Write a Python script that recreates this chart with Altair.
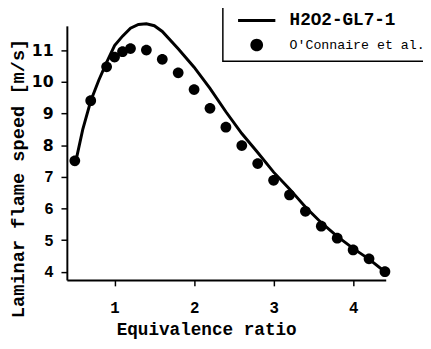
import altair as alt
import pandas as pd

# Experimental data (O'Connaire et al.)
phi_exp = [0.5, 0.7, 0.9, 1.0, 1.1, 1.2, 1.4, 1.6, 1.8, 2.0, 2.2, 2.4, 2.6, 2.8,
           3.0, 3.2, 3.4, 3.6, 3.8, 4.0, 4.2, 4.4]
sl_exp = [7.51, 9.41, 10.48, 10.79, 10.96, 11.06, 11.01, 10.72, 10.29, 9.76, 9.17,
          8.57, 7.99, 7.42, 6.89, 6.43, 5.91, 5.44, 5.06, 4.69, 4.41, 4.00]

# Model (H2O2-GL7-1)
phi_model = [0.5, 0.6, 0.7, 0.8, 0.9, 1.0, 1.1, 1.2, 1.3, 1.4, 1.5, 1.6, 1.8, 2.0,
             2.2, 2.4, 2.6, 2.8, 3.0, 3.2, 3.4, 3.6, 3.8, 4.0, 4.2, 4.4]
sl_model = [7.35, 8.50, 9.40, 10.05, 10.62, 11.15, 11.45, 11.70, 11.82, 11.84, 11.78,
            11.60, 11.05, 10.47, 9.80, 9.06, 8.37, 7.77, 7.15, 6.62, 6.05, 5.55,
            5.12, 4.74, 4.40, 4.00]

series_names = ["H2O2-GL7-1", "O'Connaire et al."]
x_ticks = [1, 2, 3, 4]
y_ticks = [4, 5, 6, 7, 8, 9, 10, 11]

exp_df = pd.DataFrame({"phi": phi_exp, "sl": sl_exp, "series": series_names[1]})
mod_df = pd.DataFrame({"phi": phi_model, "sl": sl_model, "series": series_names[0]})

FONT = "Liberation Mono"

xscale = alt.Scale(domain=[0.4, 4.41], nice=False, zero=False)
yscale = alt.Scale(domain=[3.74, 11.776], nice=False, zero=False)

xaxis = alt.Axis(values=x_ticks, format="d", title="Equivalence ratio", grid=False,
                 labelOverlap=False,
                 labelFont=FONT, labelFontWeight="bold", labelFontSize=16,
                 labelColor="black", labelPadding=14,
                 titleFont=FONT, titleFontWeight="bold", titleFontSize=18,
                 titleColor="black", titleX=142, titleY=55.5,
                 titleBaseline="alphabetic", titleAnchor="middle")
yaxis = alt.Axis(values=y_ticks, format="d", title="Laminar flame speed [m/s]", grid=False,
                 labelOverlap=False,
                 labelFont=alt.ExprRef("datum.value >= 8 ? 'DejaVu Sans' : 'Liberation Mono'"),
                 labelFontWeight="bold", labelFontSize=16,
                 labelColor="black", labelPadding=8,
                 titleFont=FONT, titleFontWeight="bold", titleFontSize=19,
                 titleColor="black", titleX=-40, titleY=155,
                 titleBaseline="bottom")

line = alt.Chart(mod_df).mark_line(color="black", strokeWidth=3).encode(
    x=alt.X("phi:Q", scale=xscale, axis=xaxis),
    y=alt.Y("sl:Q", scale=yscale, axis=yaxis),
)

line_path = "M-2,-0.16L2,-0.16L2,0.16L-2,0.16Z"
dot_path = "M-0.68,0A0.68,0.68,0,1,1,0.68,0A0.68,0.68,0,1,1,-0.68,0Z"

points = alt.Chart(exp_df).mark_point(filled=True, color="black", opacity=1, size=260).encode(
    x=alt.X("phi:Q", scale=xscale, axis=xaxis),
    y=alt.Y("sl:Q", scale=yscale, axis=yaxis),
    shape=alt.Shape("series:N",
                    scale=alt.Scale(domain=series_names, range=[line_path, dot_path]),
                    legend=alt.Legend(title=None, orient="none", legendX=159, legendY=-25,
                                      strokeColor="black", padding=10,
                                      fillColor="white",
                                      symbolSize=361, symbolFillColor="black",
                                      symbolStrokeWidth=0,
                                      symbolOffset=15, labelOffset=24,
                                      labelFont=FONT, labelColor="black",
                                      labelFontSize=alt.ExprRef("datum.label == 'H2O2-GL7-1' ? 18 : 13.5"),
                                      labelFontWeight=alt.ExprRef("datum.label == 'H2O2-GL7-1' ? 'bold' : 'normal'"),
                                      rowPadding=6, labelLimit=400)),
)

chart = alt.layer(line, points).properties(
    width=325, height=259,
    autosize=alt.AutoSizeParams(type="none"),
    padding={"left": 60, "top": 15, "right": 38, "bottom": 59},
).configure_view(stroke=None).configure_axis(
    domainColor="black", domainWidth=2, tickColor="black", tickWidth=1.5, tickSize=6,
).configure_legend(strokeWidth=1.5)

chart.save("out.html", embed_options={"renderer": "svg", "actions": False})
